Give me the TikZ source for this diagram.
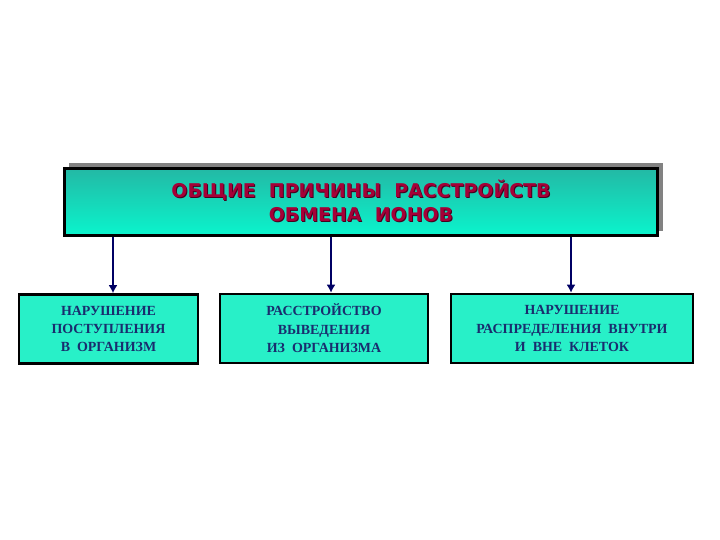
\documentclass[tikz,border=0pt]{standalone}
\usepackage{fontspec}
\newfontfamily\headfont{DejaVu Sans}
\newfontfamily\boxfont{Liberation Serif}
\usetikzlibrary{arrows.meta}
\definecolor{headtop}{RGB}{35,185,165}
\definecolor{headbot}{RGB}{10,245,205}
\definecolor{boxfill}{RGB}{40,240,200}
\definecolor{headtext}{RGB}{165,0,55}
\definecolor{headshade}{RGB}{70,0,30}
\definecolor{boxtext}{RGB}{25,45,110}
\definecolor{arrowcol}{RGB}{0,0,100}
\definecolor{shadowgray}{RGB}{130,130,130}
\tikzset{
  headbox/.style={draw=black, line width=3bp, top color=headtop, bottom color=headbot,
    minimum width=592bp, minimum height=67bp, inner sep=0pt},
  headtxt/.style={align=center, inner sep=0pt,
    font=\headfont\bfseries\fontsize{19}{24.5}\selectfont},
  causebox/.style={draw=black, line width=2.6bp, fill=boxfill, inner sep=0pt, align=center,
    minimum height=69bp, font=\boxfont\bfseries\fontsize{14}{18.5}\selectfont, text=boxtext},
  arr/.style={draw=arrowcol, line width=2bp, -{Latex[length=8bp,width=9bp]}}
}
\begin{document}
\begin{tikzpicture}[x=1bp,y=-1bp]
\useasboundingbox (0,0) rectangle (720,540);
\fill[shadowgray] (69,163) rectangle (663,231);
\node[headbox] (top) at (361,202.5) {};
\node[headtxt, text=headshade] at (362,202) {ОБЩИЕ\ \ ПРИЧИНЫ\ \ РАССТРОЙСТВ\\ОБМЕНА\ \ ИОНОВ};
\node[headtxt, text=headtext] (title) at (361,201) {ОБЩИЕ\ \ ПРИЧИНЫ\ \ РАССТРОЙСТВ\\ОБМЕНА\ \ ИОНОВ};
\node[causebox, minimum width=179bp] (b1) at (108.5,329) {НАРУШЕНИЕ\\ПОСТУПЛЕНИЯ\\В\ \ ОРГАНИЗМ};
\node[causebox, minimum width=208bp] (b2) at (324,328.5) {РАССТРОЙСТВО\\ВЫВЕДЕНИЯ\\ИЗ\ \ ОРГАНИЗМА};
\node[causebox, minimum width=242bp] (b3) at (572,328.5) {НАРУШЕНИЕ\\РАСПРЕДЕЛЕНИЯ\ \ ВНУТРИ\\И\ \ ВНЕ\ \ КЛЕТОК};
\coordinate (a1) at (113,0);
\coordinate (a2) at (331,0);
\coordinate (a3) at (571,0);
\draw[arr] (top.south -| a1) -- (b1.north -| a1);
\draw[arr] (top.south -| a2) -- (b2.north -| a2);
\draw[arr] (top.south -| a3) -- (b3.north -| a3);
\end{tikzpicture}
\end{document}
